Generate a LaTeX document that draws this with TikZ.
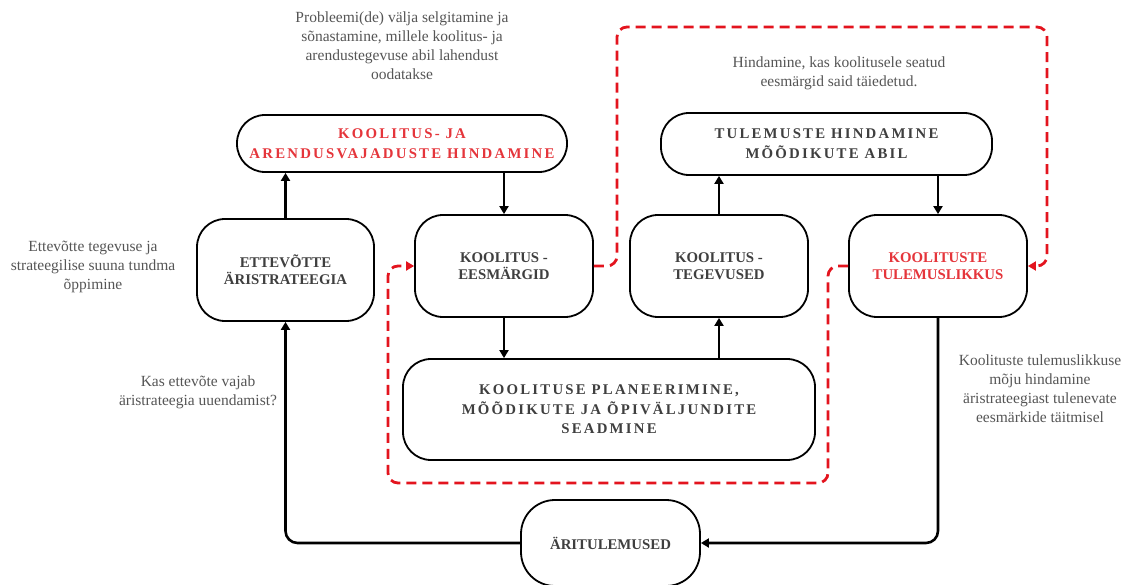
\documentclass[tikz,border=0pt]{standalone}
\usepackage{fontspec}
\setmainfont{Liberation Serif}
\newfontfamily\spaced[LetterSpace=15]{Liberation Serif}
\usepackage{tikz}
\usetikzlibrary{positioning,arrows.meta}
\definecolor{boxtext}{HTML}{3F3F3F}
\definecolor{notetext}{HTML}{555555}
\definecolor{loopred}{HTML}{E3141E}
\definecolor{titlered}{HTML}{E5353B}
\tikzstyle{stage} = [draw, line width=1.8pt, rounded corners=28pt, inner sep=0pt, align=center, text=boxtext, fill=white, font=\bfseries\fontsize{14.8}{17}\selectfont]
\tikzstyle{wide} = [font=\spaced\bfseries\fontsize{14.8}{20}\selectfont]
\tikzstyle{note} = [align=center, text=notetext, font=\fontsize{15.5}{19}\selectfont]
\tikzstyle{flow} = [line width=2.6pt, rounded corners=12pt, -{Triangle[length=8pt,width=9pt]}]
\tikzstyle{loop} = [line width=2.8pt, loopred, dash pattern=on 10pt off 6pt, rounded corners=10pt, -{Triangle[length=8pt,width=9pt]}]

\begin{document}
\begin{tikzpicture}[x=1pt,y=1pt]
            \useasboundingbox (0,0) rectangle (1132,584);
            % stages of the cycle
            \node (needs) at (402,440.5) [stage,wide,text=titlered,minimum width=330pt,minimum height=57pt] {KOOLITUS- JA\\ARENDUSVAJADUSTE HINDAMINE};
            \node (strategy) at (285.5,314) [stage,minimum width=177pt,minimum height=102pt] {ETTEVÕTTE\\ÄRISTRATEEGIA};
            \node (goals) at (504,318) [stage,minimum width=178pt,minimum height=102pt] {KOOLITUS -\\EESMÄRGID};
            \node (actions) at (719,318) [stage,minimum width=178pt,minimum height=102pt] {KOOLITUS -\\TEGEVUSED};
            \node (measure) at (826.5,440) [stage,wide,minimum width=331pt,minimum height=62pt] {TULEMUSTE HINDAMINE\\MÕÕDIKUTE ABIL};
            \node (effect) at (938,318) [stage,text=titlered,minimum width=178pt,minimum height=102pt] {KOOLITUSTE\\TULEMUSLIKKUS};
            \node (planning) at (609,174.5) [stage,wide,font=\spaced\bfseries\fontsize{14.8}{19.5}\selectfont,minimum width=412pt,minimum height=101pt] {KOOLITUSE PLANEERIMINE,\\MÕÕDIKUTE JA ÕPIVÄLJUNDITE\\SEADMINE};
            \node (results) at (610.5,41) [stage,rounded corners=34pt,minimum width=179pt,minimum height=86pt] {ÄRITULEMUSED};
            % notes
            \node (needsnote) at (402,538) [note] {Probleemi(de) välja selgitamine ja\\sõnastamine, millele koolitus- ja\\arendustegevuse abil lahendust\\oodatakse};
            \node (measurenote) at (839,511) [note] {Hindamine, kas koolitusele seatud\\eesmärgid said täiedetud.};
            \node (strategynote) at (93,317) [note] {Ettevõtte tegevuse ja\\strateegilise suuna tundma\\õppimine};
            \node (renewnote) at (198,192) [note] {Kas ettevõte vajab\\äristrateegia uuendamist?};
            \node (effectnote) at (1040,195) [note] {Koolituste tulemuslikkuse\\mõju hindamine\\äristrateegiast tulenevate\\eesmärkide täitmisel};
            % loop corners
            \coordinate (topleft) at (617,557);
            \coordinate (topright) at (1047,557);
            \coordinate (botright) at (828,101);
            \coordinate (botleft) at (388,101);
            % main flow
            \draw[flow] (strategy.north) -- (strategy.north |- needs.south);
            \draw[flow] (needs.south -| goals.north) -- (goals.north);
            \draw[flow] (goals.south) -- (goals.south |- planning.north);
            \draw[flow] (planning.north -| actions.south) -- (actions.south);
            \draw[flow] (actions.north) -- (actions.north |- measure.south);
            \draw[flow] (measure.south -| effect.north) -- (effect.north);
            \draw[flow] (effect.south) |- (results.east);
            \draw[flow] (results.west) -| (strategy.south);
            % red feedback loops
            \draw[loop] (goals.east) -| (topleft) -- (topright) |- (effect.east);
            \draw[loop] (effect.west) -| (botright) -- (botleft) |- (goals.west);
        \end{tikzpicture}
\end{document}
